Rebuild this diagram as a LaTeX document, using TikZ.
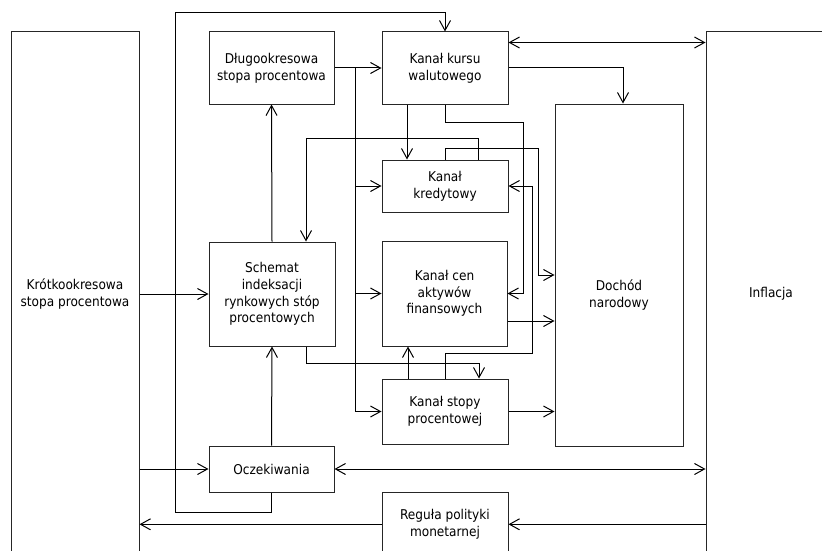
\documentclass[tikz,border=0pt]{standalone}
\usepackage{fontspec}
\setmainfont{DejaVu Sans Condensed}
\usetikzlibrary{arrows.meta,calc}
\begin{document}
\begin{tikzpicture}[x=1pt,y=-1pt, line width=1pt,
  box/.style={draw=black!85, line width=1pt, align=center, inner sep=0pt,
    text=black, font=\fontsize{13.5}{16.7}\selectfont},
  arr/.style={-{Straight Barb[length=10pt,width=11pt]}},
  darr/.style={{Straight Barb[length=10pt,width=11pt]}-{Straight Barb[length=10pt,width=11pt]}}]
\useasboundingbox (0,0) rectangle (822,551);
\fill[white] (0,0) rectangle (822,551);
\clip (0,0) rectangle (822,551);
% boxes
\node[box, minimum width=128pt, minimum height=524pt] (kr) at (75,294) {Krótkookresowa\\stopa procentowa};
\node[box, minimum width=130pt, minimum height=524pt] (inf) at (771,294) {Inflacja};
\node[box, minimum width=125pt, minimum height=72pt] (dl) at (271.5,68) {Długookresowa\\stopa procentowa};
\node[box, minimum width=126pt, minimum height=72pt] (kurs) at (445,68) {Kanał kursu\\walutowego};
\node[box, minimum width=126pt, minimum height=52pt] (kred) at (445,186) {Kanał\\kredytowy};
\node[box, minimum width=125pt, minimum height=105pt] (akt) at (444.5,293.5) {Kanał cen\\aktywów\\finansowych};
\node[box, minimum width=126pt, minimum height=65pt] (stopy) at (445,411.5) {Kanał stopy\\procentowej};
\node[box, minimum width=126pt, minimum height=104pt] (sch) at (272,294) {Schemat\\indeksacji\\rynkowych stóp\\procentowych};
\node[box, minimum width=125pt, minimum height=46pt] (ocz) at (271.5,469) {Oczekiwania};
\node[box, minimum width=126pt, minimum height=64pt] (reg) at (445,524.3) {Reguła polityki\\monetarnej};
\node[box, minimum width=128pt, minimum height=342pt,
  label={[box, draw=none, yshift=-20pt]center:Dochód\\narodowy}] (doch) at (619,275) {};
% connectors
\draw[arr] (ocz.south) -- ++(0,20) -| (175,12.5) -| (kurs.north);
\draw[arr] (dl.east) -- (kurs.west);
\draw (355,68) -- (355,411.5);
\draw[arr] (355,186) -- (kred.west);
\draw[arr] (355,293.5) -- (akt.west);
\draw[arr] (355,411.5) -- (stopy.west);
\draw[arr] (sch.north) -- (dl.south);
\draw[arr] (ocz.north) -- (sch.south);
\draw[arr] (kr.east) -- (sch.west);
\draw[arr] (kr.east |- ocz.west) -- (ocz.west);
\draw[darr] ([yshift=-11pt]kurs.north east) -- ([yshift=-11pt]kurs.north east -| inf.west);
\draw[arr] (kurs.east) -| ([xshift=4pt]doch.north);
\draw[arr] ([xshift=-38pt]kurs.south) -- ([xshift=-38pt]kred.north);
\draw[arr] (kurs.south) -- ++(0,18) -| ($(akt.east)+(16,0)$) -- (akt.east);
\draw[arr] ([xshift=33pt]kred.north) -- ++(0,-21) -| ([xshift=34pt]sch.north);
\draw[arr] (kred.north) -- ++(0,-10.7) -| ($(doch.west)+(-16,0)$) -- (doch.west);
\draw[arr] (stopy.north) -- ++(0,-25) -| ($(kred.east)+(24,0)$) -- (kred.east);
\draw[arr] ([xshift=-37pt]stopy.north) -- ([xshift=-37pt]stopy.north |- akt.south);
\draw[arr] ([xshift=34pt]sch.south) -- ++(0,16.5) -| ([xshift=34pt]stopy.north);
\draw[arr] ([yshift=-27.5pt]akt.east) -- ([yshift=-27.5pt]akt.east -| doch.west);
\draw[arr] (stopy.east) -- (stopy.east -| doch.west);
\draw[darr] (ocz.east) -- (ocz.east -| inf.west);
\draw[arr] (inf.west |- reg.east) -- (reg.east);
\draw[arr] (reg.west) -- (reg.west -| kr.east);
\end{tikzpicture}
\end{document}
